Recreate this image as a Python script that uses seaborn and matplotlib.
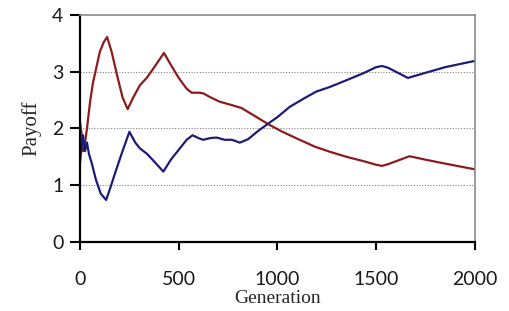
import pandas as pd
import matplotlib
matplotlib.use('Agg')
import matplotlib.pyplot as plt
import seaborn as sns

# red series
red_gen = [0, 8, 15, 25, 35, 50, 65, 81, 100, 120, 137, 160, 190, 215, 241, 270, 303, 340,
           380, 425, 460, 500, 540, 565, 600, 623, 660, 708, 760, 818, 880, 951, 1020, 1100,
           1189, 1265, 1350, 1440, 1500, 1530, 1560, 1669, 1750, 1850, 2000]
red_pay = [2.1, 1.9, 1.6, 1.75, 2.0, 2.45, 2.8, 3.05, 3.35, 3.52, 3.61, 3.35, 2.9, 2.55, 2.34,
           2.55, 2.76, 2.9, 3.1, 3.33, 3.12, 2.89, 2.7, 2.63, 2.63, 2.62, 2.55, 2.47, 2.42, 2.36,
           2.23, 2.08, 1.95, 1.82, 1.68, 1.59, 1.5, 1.42, 1.36, 1.34, 1.37, 1.51, 1.45, 1.38, 1.28]

# blue series
blue_gen = [0, 8, 15, 25, 35, 45, 59, 80, 105, 132, 150, 180, 215, 250, 280, 303, 340, 380,
            422, 460, 506, 540, 570, 600, 623, 660, 691, 733, 770, 809, 851, 900, 951, 1000,
            1062, 1130, 1197, 1265, 1350, 1440, 1500, 1530, 1560, 1661, 1750, 1850, 2000]
blue_pay = [1.4, 1.7, 1.88, 1.6, 1.75, 1.55, 1.39, 1.1, 0.85, 0.74, 0.92, 1.24, 1.6, 1.94,
            1.75, 1.65, 1.55, 1.4, 1.24, 1.45, 1.65, 1.8, 1.88, 1.83, 1.80, 1.83, 1.84, 1.80,
            1.80, 1.75, 1.81, 1.95, 2.08, 2.2, 2.38, 2.52, 2.65, 2.73, 2.85, 2.98, 3.08, 3.10,
            3.07, 2.89, 2.98, 3.08, 3.19]

x_ticks = [0, 500, 1000, 1500, 2000]
y_ticks = [0, 1, 2, 3, 4]

df = pd.concat([
    pd.DataFrame({'Generation': red_gen, 'Payoff': red_pay, 'series': 'red'}),
    pd.DataFrame({'Generation': blue_gen, 'Payoff': blue_pay, 'series': 'blue'}),
])

sns.set_style('white')
plt.rcParams['font.family'] = ['Lato', 'DejaVu Sans']

fig = plt.figure(figsize=(5.1, 3.11), dpi=100)
ax = fig.add_axes([0.157, 0.222, 0.774, 0.730])

sns.lineplot(data=df, x='Generation', y='Payoff', hue='series',
             palette={'red': '#8c1c1c', 'blue': '#1c1c78'},
             linewidth=1.6, legend=False, ax=ax, sort=False)

# dotted gridlines at 1, 2, 3
for v in y_ticks[1:-1]:
    ax.axhline(v, color='#808080', linestyle=(0, (1, 1.5)), linewidth=0.8, zorder=0)

ax.set_xlim(0, 2000)
ax.set_ylim(0, 4)
ax.set_xticks(x_ticks)
ax.set_yticks(y_ticks)

for s in ['left', 'bottom']:
    ax.spines[s].set_color('black')
    ax.spines[s].set_linewidth(1.6)
for s in ['top', 'right']:
    ax.spines[s].set_color('#8a8a8a')
    ax.spines[s].set_linewidth(1.2)

ax.tick_params(axis='x', direction='out', length=6, width=1.5, color='black',
               pad=15, labelsize=14, labelcolor='#1a1a1a')
ax.tick_params(axis='y', direction='out', length=7, width=1.5, color='black',
               pad=5, labelsize=14, labelcolor='#1a1a1a')
ax.tick_params(bottom=True, left=True)

ax.set_xlabel('Generation', family='Liberation Serif', fontsize=14, labelpad=1)
ax.set_ylabel('Payoff', family='Liberation Serif', fontsize=15, labelpad=8)

fig.savefig('out.png', dpi=100)
